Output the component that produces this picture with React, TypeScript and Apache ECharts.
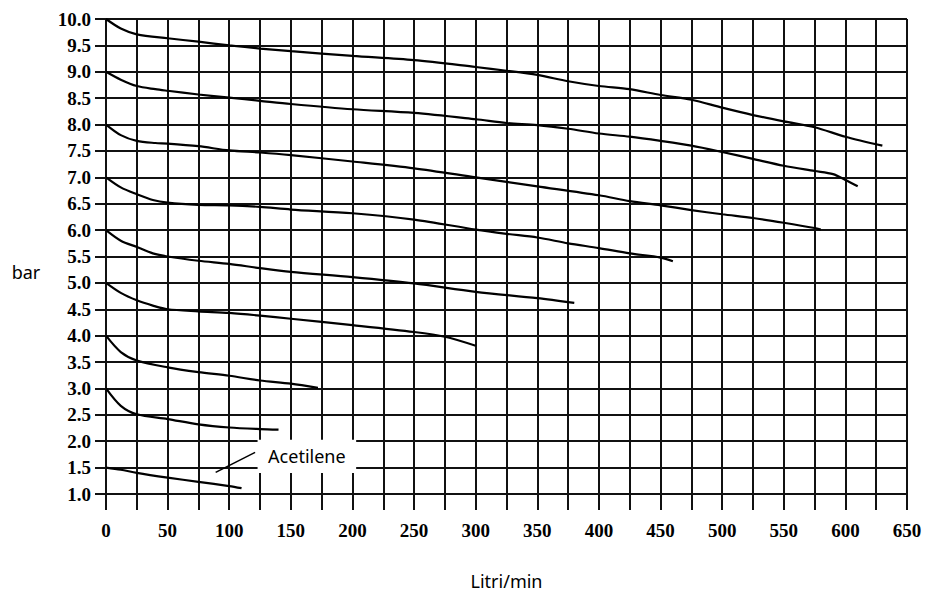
import React, { useEffect, useRef } from "react";
import * as echarts from "echarts";

// x: Litri/min, y: bar
const curve10: number[][] = [[0, 10], [12, 9.82], [25, 9.71], [50, 9.635], [75, 9.57], [100, 9.5], [125, 9.44], [150, 9.39], [200, 9.3], [250, 9.22], [300, 9.09], [325, 9.02], [350, 8.94], [375, 8.82], [400, 8.73], [425, 8.67], [450, 8.56], [475, 8.47], [500, 8.32], [525, 8.18], [550, 8.06], [575, 7.95], [600, 7.77], [630, 7.6]];
const curve9: number[][] = [[0, 9], [12, 8.85], [25, 8.73], [40, 8.67], [50, 8.64], [75, 8.57], [100, 8.51], [125, 8.45], [150, 8.39], [200, 8.29], [250, 8.22], [300, 8.1], [325, 8.03], [350, 7.99], [375, 7.92], [400, 7.83], [425, 7.77], [450, 7.69], [475, 7.6], [500, 7.48], [525, 7.35], [550, 7.22], [575, 7.12], [590, 7.06], [600, 6.95], [610, 6.83]];
const curve8: number[][] = [[0, 8], [12, 7.8], [25, 7.69], [40, 7.65], [50, 7.64], [75, 7.59], [100, 7.51], [125, 7.47], [150, 7.42], [200, 7.3], [250, 7.17], [300, 7.0], [350, 6.83], [400, 6.66], [425, 6.55], [450, 6.47], [475, 6.38], [500, 6.3], [525, 6.23], [550, 6.14], [575, 6.04], [580, 6.01]];
const curve7: number[][] = [[0, 7], [12, 6.81], [25, 6.68], [38, 6.57], [50, 6.52], [75, 6.48], [100, 6.47], [125, 6.44], [150, 6.39], [200, 6.32], [250, 6.2], [300, 6.01], [325, 5.93], [350, 5.86], [375, 5.75], [400, 5.66], [425, 5.56], [450, 5.48], [460, 5.41]];
const curve6: number[][] = [[0, 6], [12, 5.8], [25, 5.68], [38, 5.56], [50, 5.5], [75, 5.42], [100, 5.36], [125, 5.28], [150, 5.21], [200, 5.11], [250, 4.99], [300, 4.83], [350, 4.71], [380, 4.62]];
const curve5: number[][] = [[0, 5], [12, 4.81], [25, 4.67], [38, 4.57], [50, 4.5], [75, 4.46], [100, 4.43], [125, 4.38], [150, 4.32], [200, 4.2], [250, 4.07], [275, 3.98], [300, 3.81]];
const curve4: number[][] = [[0, 4], [12, 3.69], [25, 3.53], [50, 3.4], [75, 3.31], [100, 3.24], [125, 3.15], [150, 3.09], [172, 3.01]];
const curve3: number[][] = [[0, 3], [12, 2.67], [25, 2.51], [50, 2.42], [75, 2.32], [100, 2.26], [125, 2.23], [140, 2.22]];
const curveAcetilene: number[][] = [[0, 1.5], [12, 1.46], [25, 1.4], [50, 1.31], [75, 1.23], [100, 1.15], [110, 1.11]];

const curves = [curve10, curve9, curve8, curve7, curve6, curve5, curve4, curve3, curveAcetilene];

const xMin = 0;
const xMax = 650;
const xStep = 25;
const xLabelStep = 50;
const yMin = 1;
const yMax = 10;
const yStep = 0.5;

const annotationText = "Acetilene";
const xAxisName = "Litri/min";
const yAxisName = "bar";

const serif = "Liberation Serif";

export default function App() {
  const ref = useRef<HTMLDivElement>(null);
  useEffect(() => {
    if (!ref.current) return;
    const chart = echarts.init(ref.current, undefined, { renderer: "svg" });
    const gridColor = "#111";
    chart.setOption({
      animation: false,
      backgroundColor: "#fff",
      grid: { left: 106, right: 35, top: 19, bottom: 98, containLabel: false },
      xAxis: {
        type: "value",
        min: xMin,
        max: xMax,
        interval: xStep,
        axisLine: { show: false },
        axisTick: { show: true, length: 16, lineStyle: { color: gridColor, width: 2 } },
        splitLine: { show: true, lineStyle: { color: gridColor, width: 2 } },
        axisLabel: {
          margin: 27,
          color: "#000",
          fontFamily: serif,
          fontWeight: "bold",
          fontSize: 19,
          formatter: (v: number) => (v % xLabelStep === 0 ? String(v) : ""),
        },
      },
      yAxis: {
        type: "value",
        min: yMin,
        max: yMax,
        interval: yStep,
        axisLine: { show: false },
        axisTick: { show: true, length: 11, lineStyle: { color: gridColor, width: 2 } },
        splitLine: { show: true, lineStyle: { color: gridColor, width: 2 } },
        axisLabel: {
          margin: 15,
          color: "#000",
          fontFamily: serif,
          fontWeight: "bold",
          fontSize: 19,
          formatter: (v: number) => v.toFixed(1),
        },
      },
      series: curves.map((c) => ({
        type: "line",
        data: c,
        showSymbol: false,
        smooth: 0.3,
        lineStyle: { color: "#000", width: 2.2 },
        z: 3,
      })),
    });

    const p = (x: number, y: number) => chart.convertToPixel({ gridIndex: 0 }, [x, y]) as number[];
    const boxA = p(123, 2.03);
    const boxB = p(203, 1.4);
    const l1 = p(89, 1.41);
    const l2 = p(121, 1.79);
    const textPos = p(163, 1.72);
    const yNamePos = p(0, 5.2);
    const xMid = p((xMin + xMax) / 2, yMin);

    chart.setOption({
      graphic: [
        {
          type: "rect",
          shape: { x: boxA[0], y: boxA[1], width: boxB[0] - boxA[0], height: boxB[1] - boxA[1] },
          style: { fill: "#fff" },
          z: 10,
        },
        {
          type: "line",
          shape: { x1: l1[0], y1: l1[1], x2: l2[0], y2: l2[1] },
          style: { stroke: "#000", lineWidth: 1.5 },
          z: 11,
        },
        {
          type: "text",
          x: textPos[0],
          y: textPos[1],
          style: {
            text: annotationText,
            fill: "#000",
            fontFamily: "Noto Sans",
            fontSize: 18,
            align: "center",
            verticalAlign: "middle",
          },
          z: 11,
        },
        {
          type: "text",
          x: 26,
          y: yNamePos[1],
          style: { text: yAxisName, fill: "#000", fontFamily: "Noto Sans", fontSize: 18, align: "center", verticalAlign: "middle" },
        },
        {
          type: "text",
          x: xMid[0],
          y: 581,
          style: { text: xAxisName, fill: "#000", fontFamily: "Noto Sans", fontSize: 18, align: "center", verticalAlign: "middle" },
        },
      ],
    });
    return () => chart.dispose();
  }, []);
  return <div ref={ref} style={{ position: "fixed", left: 0, top: 0, width: 942, height: 592 }} />;
}
